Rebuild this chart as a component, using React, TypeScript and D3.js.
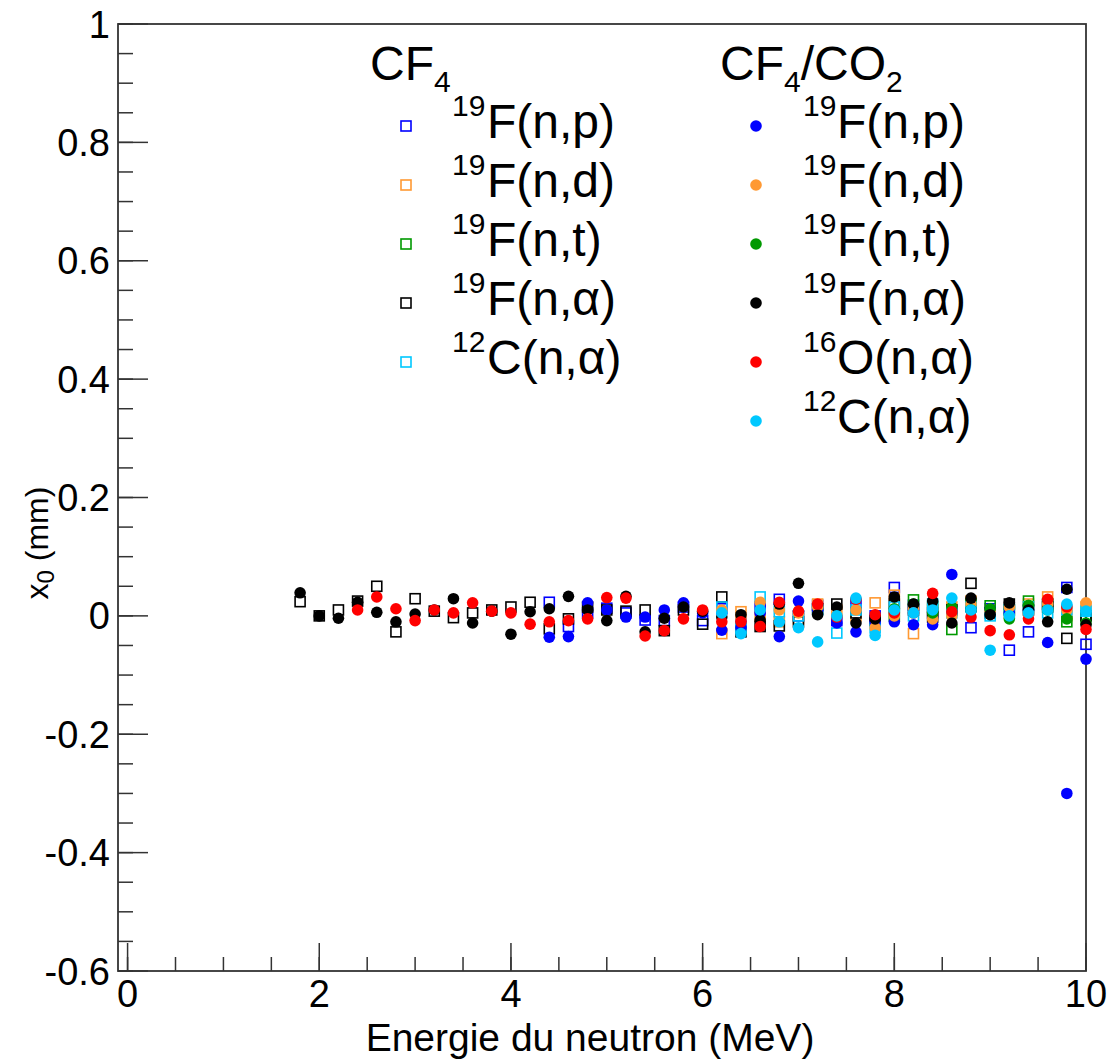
import React from 'react';
import * as d3 from 'd3';

const energies = [1.8, 2.0, 2.2, 2.4, 2.6, 2.8, 3.0, 3.2, 3.4, 3.6, 3.8, 4.0, 4.2, 4.4, 4.6, 4.8, 5.0, 5.2, 5.4, 5.6, 5.8, 6.0, 6.2, 6.4, 6.6, 6.8, 7.0, 7.2, 7.4, 7.6, 7.8, 8.0, 8.2, 8.4, 8.6, 8.8, 9.0, 9.2, 9.4, 9.6, 9.8, 10.0];

// CF4 (open squares)
const cf4_np = [null, null, null, null, null, null, null, null, null, null, null, null, null,
  0.023, -0.018, 0.005, 0.013, 0.005, -0.007, -0.008, 0.015, -0.008, 0.012, -0.012, 0.015, 0.028, 0.0, 0.018, -0.008, 0.02, 0.0, 0.048, 0.018, 0.005, 0.01, -0.02, 0.012, -0.058, -0.027, 0.02, 0.048, -0.048];
const cf4_nd = [null, null, null, null, null, null, null, null, null, null, null, null, null, null, null, null, null, null, null, null, null, null,
  -0.03, 0.007, 0.0, -0.01, -0.005, 0.02, 0.01, 0.0, 0.022, 0.035, -0.03, 0.01, 0.015, 0.025, 0.01, 0.005, 0.02, 0.032, 0.0, 0.015];
const cf4_nt = [null, null, null, null, null, null, null, null, null, null, null, null, null, null, null, null, null, null, null, null, null, null, null, null, null, null, null, null, null, null, null,
  0.0, 0.027, 0.015, -0.023, 0.02, 0.017, 0.01, 0.025, 0.02, -0.01, 0.0];
const cf4_na = [0.024, 0.0, 0.01, 0.025, 0.05, -0.027, 0.029, 0.008, -0.003, 0.005, 0.01, 0.015, 0.023, -0.022, -0.005, 0.015, 0.01, 0.008, 0.01, -0.025, 0.01, -0.014, 0.032, -0.027, -0.018, -0.017, -0.01, 0.012, 0.02, 0.005, -0.008, 0.02, 0.01, -0.002, 0.01, 0.055, 0.005, 0.02, 0.01, 0.015, -0.038, 0.0];
const cf4_c = [null, null, null, null, null, null, null, null, null, null, null, null, null, null, null, null, null, null, null, null, null, null,
  0.015, -0.02, 0.032, 0.007, 0.0, 0.01, -0.029, 0.01, -0.02, 0.015, 0.0, 0.02, 0.005, 0.015, 0.0, 0.01, 0.015, 0.005, 0.01, 0.008];

// CF4/CO2 (filled circles)
const mix_np = [null, null, null, null, null, null, null, null, null, null, null, null, null,
  -0.036, -0.035, 0.022, 0.01, -0.002, -0.002, 0.01, 0.022, 0.005, -0.024, -0.02, 0.005, -0.035, 0.025, 0.01, -0.012, -0.027, -0.01, -0.01, -0.015, -0.015, 0.07, 0.01, 0.012, 0.005, 0.01, -0.045, -0.3, -0.073];
const mix_nd = [null, null, null, null, null, null, null, null, null, null, null, null, null, null, null, null, null, null, null, null, null, null,
  0.01, -0.005, 0.023, 0.01, 0.005, 0.015, 0.0, 0.01, -0.02, 0.0, 0.012, -0.005, 0.0, 0.02, 0.008, 0.015, 0.005, 0.02, 0.01, 0.022];
const mix_nt = [null, null, null, null, null, null, null, null, null, null, null, null, null, null, null, null, null, null, null, null, null, null, null, null, null, null, null, null, null, null, null,
  0.012, 0.02, 0.005, 0.015, 0.01, 0.012, -0.005, 0.018, 0.01, -0.005, -0.012];
const mix_na = [0.039, 0.0, -0.004, 0.023, 0.006, -0.01, 0.003, 0.01, 0.029, -0.012, 0.008, -0.031, 0.007, 0.012, 0.033, 0.01, -0.008, 0.033, -0.027, -0.004, 0.015, 0.008, -0.002, 0.002, -0.007, 0.02, 0.055, 0.002, 0.015, -0.012, -0.005, 0.032, 0.02, 0.025, -0.012, 0.03, 0.002, 0.022, 0.01, -0.01, 0.045, -0.015];
const mix_o = [null, null, null,
  0.01, 0.032, 0.012, -0.008, 0.01, 0.005, 0.022, 0.008, 0.005, -0.014, -0.01, -0.008, -0.005, 0.031, 0.03, -0.034, -0.025, -0.005, 0.01, -0.01, -0.01, -0.018, 0.023, 0.008, 0.02, -0.002, 0.028, 0.002, 0.005, 0.005, 0.038, 0.007, -0.002, -0.025, -0.032, -0.005, 0.028, 0.015, -0.023];
const mix_c = [null, null, null, null, null, null, null, null, null, null, null, null, null, null, null, null, null, null, null, null, null, null,
  0.005, -0.03, 0.01, -0.01, -0.02, -0.044, 0.0, 0.03, -0.033, 0.01, 0.005, 0.01, 0.03, 0.01, -0.058, 0.0, 0.005, 0.01, 0.02, 0.008];

const BLUE = '#0000ff';
const ORANGE = '#ff9933';
const GREEN = '#009900';
const BLACK = '#000000';
const RED = '#ff0000';
const CYAN = '#00c8ff';

const squareSeries = [
  { name: 'F(n,p)', sup: '19', color: BLUE, values: cf4_np },
  { name: 'F(n,d)', sup: '19', color: ORANGE, values: cf4_nd },
  { name: 'F(n,t)', sup: '19', color: GREEN, values: cf4_nt },
  { name: 'F(n,α)', sup: '19', color: BLACK, values: cf4_na },
  { name: 'C(n,α)', sup: '12', color: CYAN, values: cf4_c },
];
const circleSeries = [
  { name: 'F(n,p)', sup: '19', color: BLUE, values: mix_np },
  { name: 'F(n,d)', sup: '19', color: ORANGE, values: mix_nd },
  { name: 'F(n,t)', sup: '19', color: GREEN, values: mix_nt },
  { name: 'F(n,α)', sup: '19', color: BLACK, values: mix_na },
  { name: 'O(n,α)', sup: '16', color: RED, values: mix_o },
  { name: 'C(n,α)', sup: '12', color: CYAN, values: mix_c },
];

const W = 1109;
const H = 1059;
const L = 118, R = 1086, T = 24, B = 971;
const FONT = '"Liberation Sans", Arial, Helvetica, sans-serif';
const AX = '#333';

export default function App() {
  const x = d3.scaleLinear().domain([-0.1, 10]).range([L, R]);
  const y = d3.scaleLinear().domain([-0.6, 1]).range([B, T]);
  const yMajor = y.ticks(8);
  const yMinor = y.ticks(32);
  const xMajor = x.ticks(5);
  const xMinor = x.ticks(20);
  const fmt = (v: number) => String(+v.toFixed(2));
  const SQ = 10;
  const CR = 5.8;

  const legendRow = (i: number) => 126 + i * 59;

  return (
    <div style={{ position: 'absolute', left: 0, top: 0 }}>
      <svg width={W} height={H} style={{ display: 'block', background: '#fff' }} fontFamily={FONT}>
        <rect x={0} y={0} width={W} height={H} fill="#fff" />
        {/* frame */}
        <rect x={L} y={T} width={R - L} height={B - T} fill="none" stroke={AX} strokeWidth={1.8} />
        {/* y ticks */}
        {yMinor.map((v, i) => (
          <line key={'ym' + i} x1={L} x2={L + 15} y1={y(v)} y2={y(v)} stroke={AX} strokeWidth={1.5} />
        ))}
        {yMajor.map((v, i) => (
          <g key={'yM' + i}>
            <line x1={L} x2={L + 30} y1={y(v)} y2={y(v)} stroke={AX} strokeWidth={1.5} />
            <text x={L - 8} y={y(v) + 0.358 * 38} fontSize={38} textAnchor="end" fill="#000">{fmt(v)}</text>
          </g>
        ))}
        {/* x ticks */}
        {xMinor.map((v, i) => (
          <line key={'xm' + i} x1={x(v)} x2={x(v)} y1={B} y2={B - 14} stroke={AX} strokeWidth={1.5} />
        ))}
        {xMajor.map((v, i) => (
          <g key={'xM' + i}>
            <line x1={x(v)} x2={x(v)} y1={B} y2={B - 28} stroke={AX} strokeWidth={1.5} />
            <text x={x(v)} y={B + 36} fontSize={38} textAnchor="middle" fill="#000">{fmt(v)}</text>
          </g>
        ))}
        {/* axis titles */}
        <text x={590} y={1051} fontSize={39} textAnchor="middle" fill="#000">Energie du neutron (MeV)</text>
        <text transform={`translate(48,543) rotate(-90)`} fontSize={32} textAnchor="middle" fill="#000">
          x<tspan fontSize={24} dy={6}>0</tspan><tspan dy={-6}> (mm)</tspan>
        </text>

        {/* data: squares */}
        {squareSeries.map((s, si) => (
          <g key={'sq' + si}>
            {s.values.map((v, i) => v === null ? null : (
              <rect key={i} x={x(energies[i]) - SQ / 2} y={y(v) - SQ / 2} width={SQ} height={SQ}
                fill="none" stroke={s.color} strokeWidth={1.6} />
            ))}
          </g>
        ))}
        {/* data: circles */}
        {circleSeries.map((s, si) => (
          <g key={'ci' + si}>
            {s.values.map((v, i) => v === null ? null : (
              <circle key={i} cx={x(energies[i])} cy={y(v)} r={CR} fill={s.color} />
            ))}
          </g>
        ))}

        {/* legend CF4 */}
        <text x={370} y={80} fontSize={48} fill="#000">CF<tspan fontSize={30} dy={12}>4</tspan></text>
        {squareSeries.map((s, i) => (
          <g key={'lsq' + i}>
            <rect x={406 - SQ / 2} y={legendRow(i) - SQ / 2} width={SQ} height={SQ} fill="none" stroke={s.color} strokeWidth={1.6} />
            <text x={452} y={legendRow(i) - 10} fontSize={30} fill="#000">{s.sup}</text>
            <text x={487} y={legendRow(i) + 12} fontSize={48} fill="#000">{s.name}</text>
          </g>
        ))}
        {/* legend CF4/CO2 */}
        <text x={720} y={80} fontSize={48} fill="#000">CF<tspan fontSize={30} dy={12}>4</tspan><tspan dy={-12}>/CO</tspan><tspan fontSize={30} dy={12}>2</tspan></text>
        {circleSeries.map((s, i) => (
          <g key={'lci' + i}>
            <circle cx={756} cy={legendRow(i)} r={CR} fill={s.color} />
            <text x={803} y={legendRow(i) - 10} fontSize={30} fill="#000">{s.sup}</text>
            <text x={837} y={legendRow(i) + 12} fontSize={48} fill="#000">{s.name}</text>
          </g>
        ))}
      </svg>
    </div>
  );
}
